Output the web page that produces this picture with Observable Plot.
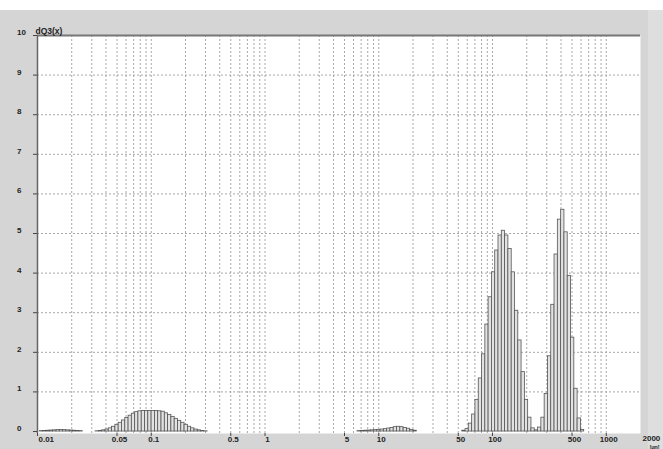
<!DOCTYPE html>
<html><head><meta charset="utf-8">
<script src="https://cdn.jsdelivr.net/npm/d3@7"></script>
<script src="https://cdn.jsdelivr.net/npm/@observablehq/plot@0.6"></script>
<style>
html,body{margin:0;padding:0;background:#fff;}
#chart svg{display:block;}
</style></head><body><div id="chart"></div>
<script>
// tiny bump near 0.01 µm
const edgesA = [0.0105, 0.0112, 0.0120, 0.0128, 0.0137, 0.0147, 0.0157, 0.0168, 0.0179, 0.0192, 0.0205, 0.0219, 0.0234, 0.0250];
const valuesA = [0.01, 0.015, 0.02, 0.025, 0.03, 0.035, 0.04, 0.035, 0.03, 0.025, 0.02, 0.015, 0.01];
// fine peak near 0.1 µm
const edgesB = [0.0324, 0.0346, 0.0370, 0.0396, 0.0423, 0.0452, 0.0484, 0.0517, 0.0553, 0.0591, 0.0632, 0.0675, 0.0722, 0.0771, 0.0825, 0.0882, 0.0942, 0.1007, 0.1077, 0.1151, 0.1231, 0.1316, 0.1406, 0.1503, 0.1607, 0.1718, 0.1836, 0.1963, 0.2099, 0.2243, 0.2398, 0.2564, 0.2741, 0.2930, 0.3132];
const valuesB = [0.005, 0.015, 0.03, 0.05, 0.08, 0.12, 0.17, 0.22, 0.28, 0.34, 0.40, 0.45, 0.49, 0.51, 0.52, 0.52, 0.52, 0.52, 0.52, 0.51, 0.50, 0.46, 0.42, 0.37, 0.32, 0.27, 0.22, 0.17, 0.12, 0.08, 0.05, 0.03, 0.015, 0.005];
// small bump near 15 µm
const edgesC = [6.50, 6.95, 7.43, 7.94, 8.49, 9.07, 9.70, 10.37, 11.09, 11.85, 12.67, 13.54, 14.48, 15.48, 16.54, 17.68, 18.90, 20.21, 21.60];
const valuesC = [0.01, 0.015, 0.02, 0.025, 0.03, 0.035, 0.04, 0.05, 0.06, 0.075, 0.09, 0.11, 0.12, 0.11, 0.09, 0.07, 0.04, 0.02];
// two main peaks near 125 µm and 410 µm
const edgesD = [54.2, 57.9, 61.9, 66.2, 70.8, 75.7, 80.9, 86.5, 92.4, 98.8, 105.6, 112.9, 120.7, 129.0, 137.9, 147.5, 157.6, 168.5, 180.1, 192.6, 205.8, 220.0, 235.2, 251.5, 268.8, 287.4, 307.2, 328.4, 351.0, 375.3, 401.2, 428.8, 458.4, 490.1, 523.9, 560.0, 598.7, 640.0];
const valuesD = [0.02, 0.06, 0.2, 0.43, 0.8, 1.34, 1.95, 2.7, 3.39, 4.02, 4.57, 4.95, 5.07, 4.95, 4.61, 4.02, 3.05, 2.3, 1.5, 0.8, 0.35, 0.08, 0.03, 0.1, 0.35, 0.95, 1.9, 3.2, 4.47, 5.35, 5.6, 5.03, 3.93, 2.37, 1.08, 0.33, 0.04];

const xTicks = [0.01, 0.05, 0.1, 0.5, 1, 5, 10, 50, 100, 500, 1000, 2000];
const xTickLabels = ["0.01", "0.05", "0.1", "0.5", "1", "5", "10", "50", "100", "500", "1000", "2000"];
const yTicks = [0, 1, 2, 3, 4, 5, 6, 7, 8, 9, 10];
const yTickLabels = ["0", "1", "2", "3", "4", "5", "6", "7", "8", "9", "10"];
const xGrid = [0.02, 0.03, 0.04, 0.05, 0.06, 0.07, 0.08, 0.09,
  0.1, 0.2, 0.3, 0.4, 0.5, 0.6, 0.7, 0.8, 0.9,
  1, 2, 3, 4, 5, 6, 7, 8, 9,
  10, 20, 30, 40, 50, 60, 70, 80, 90,
  100, 200, 300, 400, 500, 600, 700, 800, 900, 1000];
const yGrid = [1, 2, 3, 4, 5, 6, 7, 8, 9];
const yTitle = "dQ3(x)";
const xUnit = "[µm]";

function toBins(edges, values) {
  return values.map((v, i) => ({x1: edges[i], x2: edges[i + 1], y: v}));
}
const bars = [
  ...toBins(edgesA, valuesA),
  ...toBins(edgesB, valuesB),
  ...toBins(edgesC, valuesC),
  ...toBins(edgesD, valuesD)
];
const xLab = xTicks.map((t, i) => ({t, label: xTickLabels[i]}));
const yLab = yTicks.map((t, i) => ({t, label: yTickLabels[i]}));
const midLab = xLab.slice(1, -1);

const txt = "#222";
const plot = Plot.plot({
  width: 663,
  height: 449,
  marginLeft: 37,
  marginRight: 23,
  marginTop: 35,
  marginBottom: 16,
  style: {
    background: "linear-gradient(#fff, #fff) top left / 100% 10px no-repeat, linear-gradient(to right, #d5d5d5 648px, #dedede 648px)",
    fontFamily: "'Liberation Sans', Arial, sans-serif",
    fontSize: "8px",
    fontWeight: "bold",
    color: txt
  },
  x: {type: "log", domain: [0.01, 2000], axis: null},
  y: {domain: [-0.05, 10], axis: null},
  marks: [
    Plot.frame({fill: "white", stroke: "none"}),
    Plot.ruleX(xGrid, {stroke: "#a8a8a8", strokeDasharray: "2,2", strokeWidth: 1}),
    Plot.ruleY(yGrid, {stroke: "#a8a8a8", strokeDasharray: "2,2", strokeWidth: 1}),
    Plot.rectY(bars, {x1: "x1", x2: "x2", y: "y", fill: "#e2e2e2", stroke: "#555", strokeWidth: 0.8}),
    Plot.ruleY([10], {stroke: "#777", strokeWidth: 2}),
    Plot.ruleX([0.01], {stroke: "#666", strokeWidth: 1.5}),
    Plot.axisY(yTicks, {tickSize: 4, tickFormat: () => "", label: null, stroke: "#444"}),
    Plot.axisX(xTicks.slice(0, -1), {tickSize: 3, tickFormat: () => "", label: null, stroke: "#444"}),
    Plot.text(yLab, {y: "t", text: "label", frameAnchor: "left", textAnchor: "start", dx: -20.5, dy: -3, fill: txt, fontSize: 8, fontWeight: "bold"}),
    Plot.text(midLab, {x: "t", text: "label", frameAnchor: "bottom", textAnchor: "middle", lineAnchor: "top", dx: 2.5, dy: 3, fill: txt, fontSize: 8, fontWeight: "bold"}),
    Plot.text(xLab.slice(0, 1), {x: "t", text: "label", frameAnchor: "bottom", textAnchor: "start", lineAnchor: "top", dx: 1, dy: 3, fill: txt, fontSize: 8, fontWeight: "bold"}),
    Plot.text(xLab.slice(-1), {x: "t", text: "label", frameAnchor: "bottom", textAnchor: "start", lineAnchor: "top", dx: 2, dy: 2, fill: txt, fontSize: 8, fontWeight: "bold"}),
    Plot.text([yTitle], {x: 0.01, frameAnchor: "top", textAnchor: "start", lineAnchor: "bottom", dx: -2, dy: -2, fill: txt, fontSize: 8.5, fontWeight: "bold"}),
    Plot.text([xUnit], {x: 2000, frameAnchor: "bottom", textAnchor: "middle", lineAnchor: "bottom", dx: 14, dy: 15.5, fill: txt, fontSize: 4.5, fontWeight: "bold"})
  ]
});
document.getElementById("chart").appendChild(plot);
</script></body></html>
